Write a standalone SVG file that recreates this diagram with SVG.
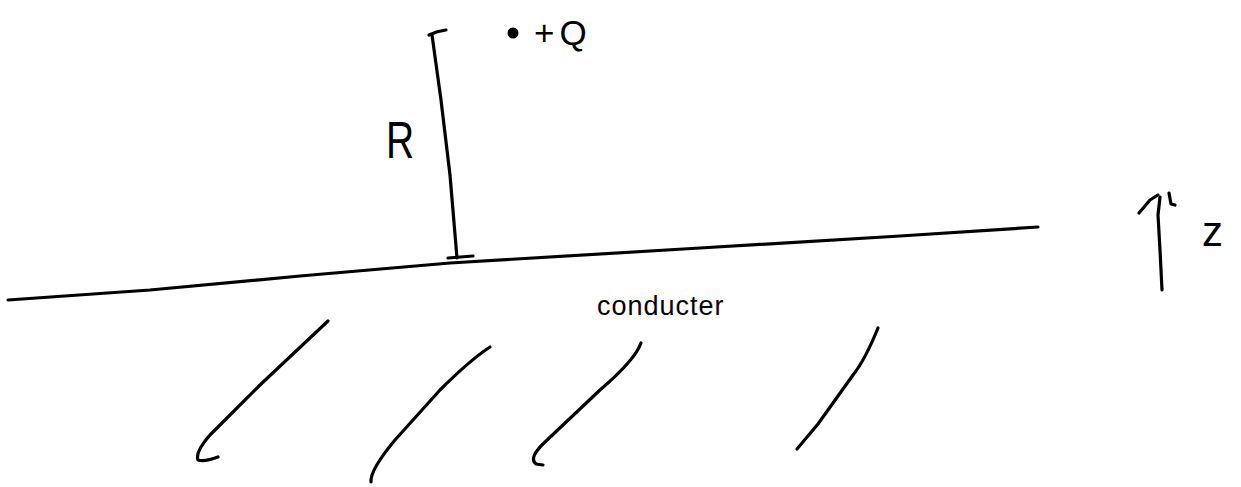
<svg xmlns="http://www.w3.org/2000/svg" width="1241" height="487" viewBox="0 0 1241 487">
<style>
.s{fill:none;stroke:#000;stroke-width:3.2;stroke-linecap:round;stroke-linejoin:round}
.t{font-family:"Liberation Sans",sans-serif;fill:#000}
</style>
<rect width="1241" height="487" fill="#fff"/>
<g id="conductor-surface">
<path class="s" d="M8 300 L150 290 L300 276 L450 263 L700 248 L900 236 L1038 227"/>
</g>
<g id="distance-R">
<path class="s" d="M429 35 Q437 31 446 30"/>
<path class="s" d="M432 35 L441 100 L450 175 L457 258"/>
<path class="s" d="M448 258 L473 256"/>
<text class="t" x="386" y="158" font-size="52" transform="translate(386 0) scale(0.75 1) translate(-386 0)">R</text>
</g>
<g id="charge">
<circle cx="513" cy="33" r="5.5" fill="#000"/>
<text class="t" x="534" y="45" font-size="35" letter-spacing="5">+Q</text>
</g>
<g id="z-axis">
<path class="s" d="M1162 290 L1160 250 L1158 215 L1160 197"/>
<path class="s" d="M1139 213 L1150 200 L1158 195" stroke-width="4.5"/>
<path class="s" d="M1169 193 L1171 204 L1175 205"/>
<text class="t" x="1202" y="246" font-size="42">z</text>
</g>
<g id="label">
<text class="t" x="597" y="315" font-size="27" letter-spacing="1">conducter</text>
</g>
<g id="hatching">
<path class="s" d="M328 321 L260 385 L210 435 Q195 452 198 460 Q205 462 218 457"/>
<path class="s" d="M490 347 Q470 360 440 390 L395 440 Q370 470 371 482"/>
<path class="s" d="M641 343 Q635 360 600 390 L545 442 Q528 458 536 464 L543 465"/>
<path class="s" d="M878 328 Q865 360 853 375 L818 424 L797 449"/>
</g>
</svg>
